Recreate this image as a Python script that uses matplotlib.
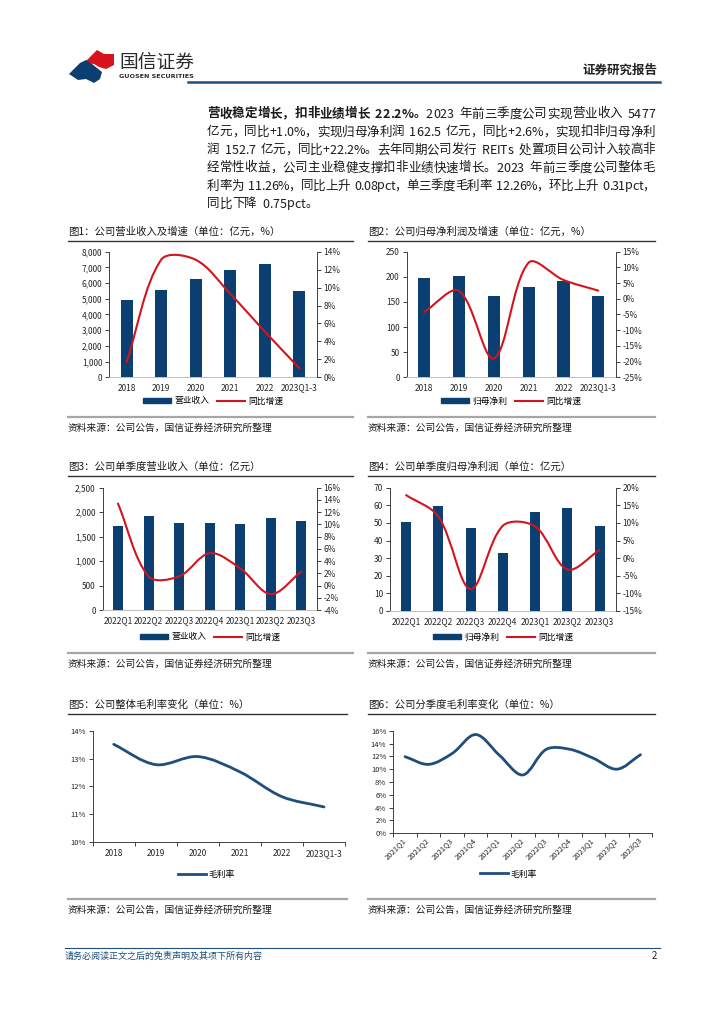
import numpy as np
import matplotlib
matplotlib.use('Agg')
import matplotlib.pyplot as plt
from matplotlib import font_manager
from matplotlib.font_manager import FontProperties
from matplotlib.ft2font import FT2Font
from matplotlib.path import Path
from matplotlib.patches import PathPatch, Polygon, Rectangle
from matplotlib.lines import Line2D
from matplotlib.ticker import FuncFormatter, MultipleLocator

try:
    from matplotlib.ft2font import LoadFlags
    NO_HINT = LoadFlags.NO_HINTING
except ImportError:
    from matplotlib.ft2font import LOAD_NO_HINTING as NO_HINT

plt.rcParams['font.family'] = ['Noto Sans CJK SC', 'DejaVu Sans']
plt.rcParams['axes.unicode_minus'] = False

W, H = 724, 1024

# ---- data ----
years = ['2018', '2019', '2020', '2021', '2022', '2023Q1-3']
revenue = [4909, 5548, 6276, 6856, 7202, 5477]
revenue_yoy = [1.7, 13.1, 13.1, 9.3, 5.1, 1.0]
net_profit = [197, 201, 162, 180, 191, 162.5]
profit_yoy = [-4.2, 2.5, -19.0, 11.5, 6.0, 2.6]

quarters = ['2022Q1', '2022Q2', '2022Q3', '2022Q4', '2023Q1', '2023Q2', '2023Q3']
q_revenue = [1716, 1921, 1778, 1778, 1764, 1887, 1819]
q_revenue_yoy = [13.4, 1.5, 1.5, 5.3, 2.8, -1.4, 2.3]
q_profit = [50.7, 59.8, 47.1, 32.9, 56.0, 58.3, 48.2]
q_profit_yoy = [17.9, 11.8, -8.8, 9.2, 9.0, -3.2, 2.3]

gross_margin = [13.51, 12.78, 13.07, 12.52, 11.63, 11.26]

quarters_long = ['2021Q1', '2021Q2', '2021Q3', '2021Q4', '2022Q1', '2022Q2',
                 '2022Q3', '2022Q4', '2023Q1', '2023Q2', '2023Q3']
q_margin = [11.95, 10.75, 12.45, 15.4, 12.2, 9.1, 13.1, 13.1, 11.7, 10.0, 12.26]

# paragraph lines: list of (text, weight) segments
paragraph = [
    [('营收稳定增长，扣非业绩增长 22.2%。', 'bold'), ('2023 年前三季度公司实现营业收入 5477', 'normal')],
    [('亿元，同比+1.0%，实现归母净利润 162.5 亿元，同比+2.6%，实现扣非归母净利', 'normal')],
    [('润 152.7 亿元，同比+22.2%。去年同期公司发行 REITs 处置项目公司计入较高非', 'normal')],
    [('经常性收益，公司主业稳健支撑扣非业绩快速增长。2023 年前三季度公司整体毛', 'normal')],
    [('利率为 11.26%，同比上升 0.08pct，单三季度毛利率 12.26%，环比上升 0.31pct，', 'normal')],
    [('同比下降 0.75pct。', 'normal')],
]

NAVY = '#0B3F72'
RED = '#D2141C'
LINE_BLUE = '#1F4E7A'
TEXT = '#1a1a1a'
SOURCE = '资料来源：公司公告，国信证券经济研究所整理'

fig = plt.figure(figsize=(W / 100, H / 100), dpi=100)


def fx(x):
    return x / W


def fy(y):
    return 1 - y / H


def add_ax(left, top, right, bottom):
    return fig.add_axes([fx(left), fy(bottom), (right - left) / W, (bottom - top) / H])


def draw_smooth(ax, xs, ys, color, lw):
    # Excel-like smoothed line; control arms scaled by segment length on screen
    bbox = ax.get_position()
    x0, x1 = ax.get_xlim()
    y0, y1 = ax.get_ylim()
    sx = bbox.width * W / (x1 - x0)
    sy = bbox.height * H / (y1 - y0)
    pts = np.column_stack([np.asarray(xs, float) * sx, np.asarray(ys, float) * sy])
    n = len(pts)
    verts = [pts[0]]
    codes = [Path.MOVETO]
    for i in range(n - 1):
        p0 = pts[max(i - 1, 0)]
        p1 = pts[i]
        p2 = pts[i + 1]
        p3 = pts[min(i + 2, n - 1)]
        d01 = np.hypot(*(p1 - p0))
        d12 = np.hypot(*(p2 - p1))
        d23 = np.hypot(*(p3 - p2))
        c1 = p1 + (p2 - p0) * d12 / (d01 + d12) / 3
        c2 = p2 - (p3 - p1) * d12 / (d12 + d23) / 3
        verts += [c1, c2, p2]
        codes += [Path.CURVE4] * 3
    verts = np.array(verts) / [sx, sy]
    ax.add_patch(PathPatch(Path(verts, codes), facecolor='none', edgecolor=color,
                           lw=lw, capstyle='round', joinstyle='round', zorder=3))


def hline(x0, x1, y, color, lw):
    fig.add_artist(Line2D([fx(x0), fx(x1)], [fy(y), fy(y)], color=color, lw=lw))


_fonts = {}


def advances(s, weight, fs):
    if weight not in _fonts:
        path = font_manager.findfont(FontProperties(family='Noto Sans CJK SC', weight=weight))
        _fonts[weight] = FT2Font(path)
    font = _fonts[weight]
    font.set_size(fs, 100)
    em = fs * 100 / 72
    out = []
    for c in s:
        if c == ' ':
            out.append(0.42 * em)  # the report font uses wide half-width spaces
        else:
            out.append(font.load_char(ord(c), flags=NO_HINT).linearHoriAdvance / 65536)
    return out


def paragraph_line(segments, x0, x1, y, fs, justify):
    items = []
    for s, weight in segments:
        for c, a in zip(s, advances(s, weight, fs)):
            items.append((c, weight, a))
    total = sum(a for _, _, a in items)
    gap = (x1 - x0 - total) / (len(items) - 1) if justify else 0.0
    x = x0
    for c, weight, a in items:
        if c != ' ':
            fig.text(fx(x), fy(y), c, fontsize=fs, fontweight=weight,
                     va='center', ha='left', color=TEXT)
        x += a + gap


def panel_frame(x0, x1, title_y, title, src_y):
    fig.text(fx(x0), fy(title_y), title, fontsize=7.5, va='center', ha='left', color=TEXT)
    hline(x0, x1, title_y + 9, '#333333', 1.0)
    hline(x0, x1, src_y, '#A6A6A6', 1.6)
    fig.text(fx(x0), fy(src_y + 11), SOURCE, fontsize=7, va='center', ha='left', color=TEXT)


def pct_fmt(v, p):
    return f'{v:.0f}%'


def comma_fmt(v, p):
    return f'{v:,.0f}'


def bar_line_chart(rect, cats, bars, line, bar_label, ylim, ystep, y2lim, y2step,
                   comma, bar_w, legend_xy):
    ax = add_ax(*rect)
    x = np.arange(len(cats))
    ax.bar(x, bars, width=bar_w, color=NAVY, zorder=2)
    ax.set_xlim(-0.5, len(cats) - 0.5)
    ax.set_ylim(*ylim)
    ax.yaxis.set_major_locator(MultipleLocator(ystep))
    if comma:
        ax.yaxis.set_major_formatter(FuncFormatter(comma_fmt))
    ax.set_xticks(x)
    ax.set_xticklabels(cats)
    ax2 = ax.twinx()
    ax2.set_ylim(*y2lim)
    ax2.yaxis.set_major_locator(MultipleLocator(y2step))
    ax2.yaxis.set_major_formatter(FuncFormatter(pct_fmt))
    draw_smooth(ax2, x, line, RED, 1.5)

    for a in (ax, ax2):
        for s in a.spines.values():
            s.set_visible(False)
    ax.spines['left'].set_visible(True)
    ax.spines['left'].set_color('#404040')
    ax.spines['left'].set_linewidth(0.7)
    ax.spines['bottom'].set_visible(True)
    ax.spines['bottom'].set_color('#BFBFBF')
    ax.spines['bottom'].set_linewidth(0.7)
    ax2.spines['right'].set_visible(True)
    ax2.spines['right'].set_color('#404040')
    ax2.spines['right'].set_linewidth(0.7)
    ax.tick_params(axis='y', direction='out', length=3, width=0.7, labelsize=6, pad=2,
                   color='#404040', labelcolor='#262626')
    ax2.tick_params(axis='y', direction='out', length=3, width=0.7, labelsize=6, pad=2,
                    color='#404040', labelcolor='#262626')
    ax.tick_params(axis='x', length=0, labelsize=6, pad=4.5, labelcolor='#262626')

    handles = [Rectangle((0, 0), 1, 1, color=NAVY), Line2D([], [], color=RED, lw=1.5)]
    fig.legend(handles, [bar_label, '同比增速'], loc='center',
               bbox_to_anchor=(fx(legend_xy[0]), fy(legend_xy[1])), ncol=2, frameon=False,
               fontsize=6.3, handlelength=3.2, handleheight=0.55, columnspacing=0.8,
               handletextpad=0.4, borderpad=0)
    return ax, ax2


def margin_chart(rect, cats, values, ylim, ystep, rotate, legend_xy, label_pad):
    ax = add_ax(*rect)
    x = np.arange(len(cats))
    ax.set_xlim(-0.5, len(cats) - 0.5)
    ax.set_ylim(*ylim)
    draw_smooth(ax, x, values, LINE_BLUE, 2.0)
    ax.yaxis.set_major_locator(MultipleLocator(ystep))
    ax.yaxis.set_major_formatter(FuncFormatter(pct_fmt))
    ax.set_xticks(np.arange(-0.5, len(cats), 1))
    ax.set_xticks(x, minor=True)
    if rotate:
        ax.set_xticklabels(cats, minor=True, rotation=45, ha='right', va='center',
                           rotation_mode='anchor')
        size = 5.5
    else:
        ax.set_xticklabels(cats, minor=True)
        size = 6
    ax.tick_params(axis='x', which='major', length=3, width=0.7, direction='out',
                   labelbottom=False, color='#404040')
    ax.tick_params(axis='x', which='minor', length=0, labelsize=size, pad=label_pad,
                   labelcolor='#262626')
    ax.tick_params(axis='y', direction='out', length=3, width=0.7, labelsize=5.5, pad=2,
                   color='#404040', labelcolor='#262626')
    for s in ('top', 'right'):
        ax.spines[s].set_visible(False)
    for s in ('left', 'bottom'):
        ax.spines[s].set_color('#404040')
        ax.spines[s].set_linewidth(0.7)
    fig.legend([Line2D([], [], color=LINE_BLUE, lw=2.0)], ['毛利率'], loc='center',
               bbox_to_anchor=(fx(legend_xy[0]), fy(legend_xy[1])), frameon=False,
               fontsize=6.3, handlelength=3.2, handletextpad=0.3, borderpad=0)
    return ax


# ---- header ----
fig.add_artist(Polygon([(fx(x), fy(y)) for x, y in
                        [(84, 63), (92, 55), (97, 50), (104, 54), (114, 54), (114, 65),
                         (106, 69), (99, 67), (94, 64)]],
                       closed=True, facecolor='#D7141D', edgecolor='none'))
fig.add_artist(Polygon([(fx(x), fy(y)) for x, y in
                        [(69, 74), (80, 63), (86, 60), (92, 64), (97, 68), (102, 72), (100, 79),
                         (94, 83), (86, 79), (78, 80)]],
                       closed=True, facecolor='#0B3F72', edgecolor='none'))
fig.text(fx(119), fy(62), '国信证券', fontsize=13.5, color='#2a2a2a', va='center', ha='left')
fig.text(fx(119), fy(77), 'GUOSEN SECURITIES', fontsize=4.6, fontweight='bold', color='#2a2a2a',
         va='center', ha='left', family=['DejaVu Sans'])
fig.text(fx(657), fy(70), '证券研究报告', fontsize=9, fontweight='bold', color='#222222',
         va='center', ha='right')
hline(188, 660, 82, '#1F4E7A', 1.8)

# ---- paragraph ----
for i, segs in enumerate(paragraph):
    paragraph_line(segs, 207, 655, 114 + 18 * i, 9, justify=(i < len(paragraph) - 1))

# ---- panel frames ----
panel_frame(68, 353, 232, '图1：公司营业收入及增速（单位：亿元，%）', 417)
panel_frame(368, 655, 232, '图2：公司归母净利润及增速（单位：亿元，%）', 417)
panel_frame(68, 353, 467, '图3：公司单季度营业收入（单位：亿元）', 653)
panel_frame(368, 655, 467, '图4：公司单季度归母净利润（单位：亿元）', 653)
panel_frame(68, 347, 705, '图5：公司整体毛利率变化（单位：%）', 899)
panel_frame(368, 655, 705, '图6：公司分季度毛利率变化（单位：%）', 899)

# ---- charts ----
bar_line_chart((109.3, 251.7, 316.7, 377.3), years, revenue, revenue_yoy, '营业收入',
               (0, 8000), 1000, (0, 14), 2, True, 0.35, (213, 401))
bar_line_chart((406.7, 251.7, 615.7, 377.3), years, net_profit, profit_yoy, '归母净利',
               (0, 250), 50, (-25, 15), 5, False, 0.35, (511, 401))
bar_line_chart((102.7, 487.7, 316.7, 610), quarters, q_revenue, q_revenue_yoy, '营业收入',
               (0, 2500), 500, (-4, 16), 2, True, 0.33, (210, 637))
bar_line_chart((390, 487.7, 615.7, 611), quarters, q_profit, q_profit_yoy, '归母净利',
               (0, 70), 10, (-15, 20), 5, False, 0.31, (503, 637))

margin_chart((92.7, 730.7, 345, 842), years, gross_margin, (10, 14), 1, False, (206, 875), 5)
margin_chart((393.3, 730.7, 652.3, 833.3), quarters_long, q_margin, (0, 16), 2, True,
             (508, 874), 4)

# ---- footer ----
hline(65, 660, 948, '#1F4E7A', 0.8)
fig.text(fx(65), fy(956), '请务必阅读正文之后的免责声明及其项下所有内容', fontsize=6.5,
         color='#1F4E7A', va='center', ha='left')
fig.text(fx(657), fy(956), '2', fontsize=7, color='#222222', va='center', ha='right')

fig.savefig('out.png', dpi=100)
